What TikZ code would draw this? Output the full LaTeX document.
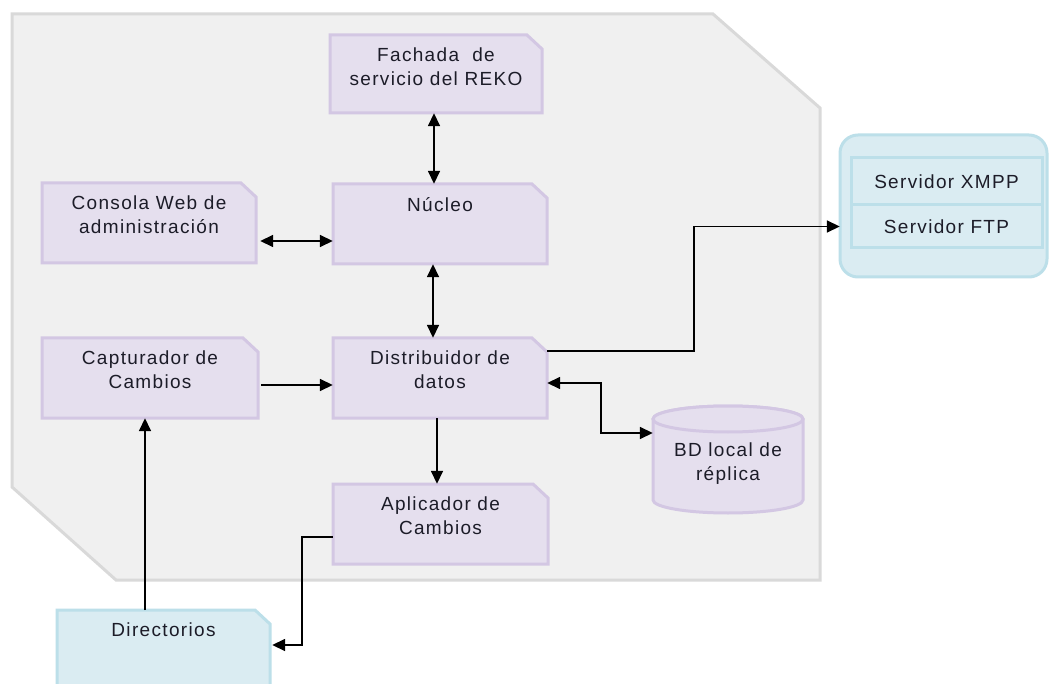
\documentclass[tikz,border=0pt]{standalone}
\usepackage{fontspec}
\setmainfont{Liberation Sans}[LetterSpace=7]
\usetikzlibrary{arrows.meta}
\definecolor{panelfill}{HTML}{F0F0F0}
\definecolor{paneldraw}{HTML}{D9D9D9}
\definecolor{lavfill}{HTML}{E5DFEE}
\definecolor{lavdraw}{HTML}{D3C7E3}
\definecolor{bluefill}{HTML}{DAECF2}
\definecolor{bluedraw}{HTML}{BCDFE9}
\definecolor{txtc}{HTML}{1C1C28}
\tikzset{
  lavbox/.style={fill=lavfill, draw=lavdraw, line width=3pt, line join=miter},
  bluebox/.style={fill=bluefill, draw=bluedraw, line width=3pt, line join=miter},
  holder/.style={rectangle, draw=none, fill=none, inner sep=0pt},
  txt/.style={font=\fontsize{19}{23.5}\selectfont, text=txtc, align=center, inner sep=0pt},
  conn/.style={draw=black, line width=1.6pt, -{Triangle[length=13pt,width=12pt]}},
  biconn/.style={draw=black, line width=1.6pt, {Triangle[length=13pt,width=12pt]}-{Triangle[length=13pt,width=12pt]}},
  plain/.style={draw=black, line width=1.6pt}
}
% box with a folded (cut) top-right corner: name, x1, y1, x2, y2, style, text
\newcommand\foldbox[7]{%
  \path[#6] (#2,#5) -- (#2,#3) -- ({#4-15},#3) -- (#4,{#3+14}) -- (#4,#5) -- cycle;
  \node[holder, minimum width={#4-#2}, minimum height={#5-#3}] (#1) at ({(#2+#4)/2},{(#3+#5)/2}) {};
  \node[txt, anchor=north] (#1-t) at ({(#2+#4)/2},{#3+13}) {#7};
}
\begin{document}
\begin{tikzpicture}[x=1pt, y=-1pt]
\clip (0,0) rectangle (1049,684);
\fill[white] (0,0) rectangle (1049,684);

% outer system panel
\path[fill=panelfill, draw=paneldraw, line width=3pt, line join=miter]
  (12,14) -- (713,14) -- (820,108) -- (820,580) -- (116,580) -- (12,487) -- cycle;

% components
\foldbox{fach}{330}{35}{542}{113}{lavbox}{Fachada~ de\\servicio del REKO}
\foldbox{nuc}{333}{184}{547}{264}{lavbox}{Núcleo}
\foldbox{cons}{42}{183}{256}{263}{lavbox}{Consola Web de\\administración}
\foldbox{capt}{42}{338}{258}{418}{lavbox}{Capturador de\\Cambios}
\foldbox{dist}{333}{338}{547}{418}{lavbox}{Distribuidor de\\datos}
\foldbox{apl}{333}{484}{548}{564}{lavbox}{Aplicador de\\Cambios}
\foldbox{dir}{57}{610}{270}{710}{bluebox}{Directorios}

% local replica database (cylinder)
\path[lavbox] (653,419) -- (653,500) arc[start angle=180, end angle=0, x radius=75, y radius=13]
  -- (803,419) arc[start angle=0, end angle=-180, x radius=75, y radius=13] -- cycle;
\path[lavbox] (728,419) ellipse[x radius=75, y radius=13];
\node[holder, minimum width=150, minimum height=107] (bd) at (728,460) {};
\node[txt, anchor=north] (bd-t) at (728,443) {BD local de\\réplica};

% external servers
\path[bluebox, rounded corners=18pt] (840,135) rectangle (1047,277);
\node[holder, minimum width=207, minimum height=142] (srv) at (943.5,206) {};
\node[bluebox, minimum width=191, minimum height=47, inner sep=0pt] (xmpp) at (946.5,181.5) {};
\node[bluebox, minimum width=191, minimum height=43, inner sep=0pt] (ftp) at (946.5,226.5) {};
\node[txt] (xmpp-t) at (xmpp.center) {Servidor XMPP};
\node[txt] (ftp-t) at (ftp.center) {Servidor FTP};

% connectors
\coordinate (k1) at (694,351);
\coordinate (k2) at (601,383);
\coordinate (k3) at (302,537);
\coordinate (k4) at (145,610);

\draw[biconn] ([xshift=-2]fach.south) -- ([xshift=-2]fach.south |- nuc.north);
\draw[biconn] ([yshift=-18,xshift=4]cons.east) -- ([yshift=-18]cons.east -| nuc.west);
\draw[biconn] ([xshift=-7]nuc.south) -- ([xshift=-7]nuc.south |- dist.north);
\draw[conn] ([yshift=-7,xshift=3]capt.east) -- ([yshift=-7]capt.east -| dist.west);
\draw[conn] ([yshift=27]dist.east) -- (k1) |- (ftp.west -| srv.west);
\draw[biconn] (dist.east |- k2) -- (k2) |- (bd.west |- 0,433);
\draw[conn] ([xshift=-3]dist.south) -- ([xshift=-3]dist.south |- apl.north);
\draw[conn] (apl.west |- k3) -- (k3) |- ([yshift=15,xshift=2]dir.east);
\draw[conn] (k4) -- (k4 |- capt.south);
\end{tikzpicture}
\end{document}
